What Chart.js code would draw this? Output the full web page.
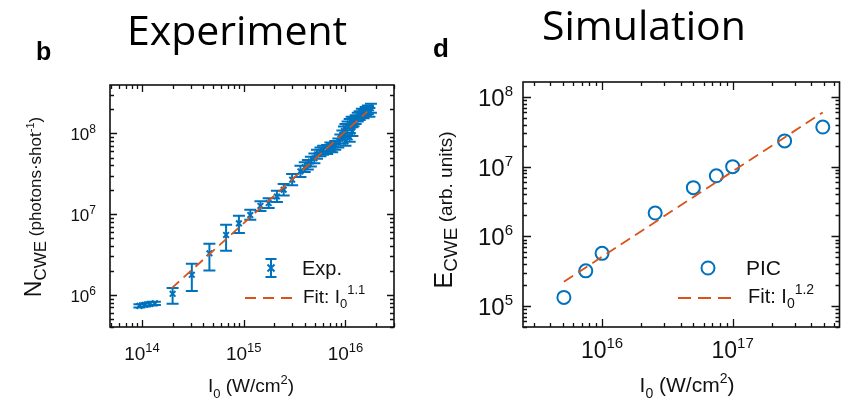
<!DOCTYPE html>
<html>
<head>
<meta charset="utf-8">
<script src="https://cdn.jsdelivr.net/npm/chart.js@4/dist/chart.umd.min.js"></script>
<style>
  html, body { margin: 0; padding: 0; background: #fff; }
  body { width: 848px; height: 403px; position: relative; overflow: hidden; }
  canvas { position: absolute; top: 0; }
  #expCanvas { left: 0; }
  #simCanvas { left: 424px; }
</style>
</head>
<body>
<canvas id="expCanvas" width="424" height="403"></canvas>
<canvas id="simCanvas" width="424" height="403"></canvas>
<script>
// ---------- Experiment: CWE photon yield vs. intensity ----------
const expIntensity = [
  9.44e13, 1.07e14, 1.20e14, 1.34e14, 2.0e14, 3.09e14, 4.60e14, 6.71e14, 8.97e14, 1.16e15,
  1.46e15, 1.76e15, 2.12e15, 2.47e15, 2.99e15, 3.61e15, 3.98e15, 4.27e15, 4.57e15, 4.95e15,
  5.25e15, 5.68e15, 6.03e15, 6.61e15, 7.11e15, 7.41e15, 7.94e15, 8.51e15, 8.91e15, 9.33e15,
  9.66e15, 1.0e16, 1.0e16, 1.05e16, 1.10e16, 1.10e16, 1.15e16, 1.17e16, 1.20e16, 1.26e16,
  1.32e16, 1.38e16, 1.45e16, 1.51e16, 1.58e16, 1.66e16, 1.72e16, 1.78e16
];
const expPhotons = [
  7.31e5, 7.53e5, 7.74e5, 7.85e5, 1.03e6, 1.77e6, 3.27e6, 5.51e6, 7.67e6, 9.73e6,
  1.26e7, 1.37e7, 1.65e7, 2.0e7, 2.66e7, 3.37e7, 3.80e7, 4.07e7, 4.47e7, 4.90e7,
  5.50e7, 5.89e7, 6.17e7, 6.31e7, 6.76e7, 6.61e7, 7.08e7, 7.59e7, 8.51e7, 9.55e7,
  1.07e8, 1.15e8, 7.94e7, 1.23e8, 1.32e8, 8.91e7, 1.41e8, 1.05e8, 1.38e8, 1.48e8,
  1.58e8, 1.66e8, 1.78e8, 1.74e8, 1.86e8, 1.95e8, 1.82e8, 2.04e8
];
const expErrLow = [
  6.98e5, 7.19e5, 7.39e5, 7.50e5, 7.74e5, 1.12e6, 2.0e6, 3.51e6, 5.81e6, 8.49e6,
  1.09e7, 1.19e7, 1.41e7, 1.70e7, 2.27e7, 2.87e7, 3.31e7, 3.55e7, 3.89e7, 4.27e7,
  4.84e7, 5.19e7, 5.43e7, 5.56e7, 5.96e7, 5.83e7, 6.24e7, 6.69e7, 7.50e7, 8.42e7,
  9.45e7, 1.01e8, 7.0e7, 1.08e8, 1.16e8, 7.85e7, 1.25e8, 9.25e7, 1.22e8, 1.30e8,
  1.40e8, 1.46e8, 1.57e8, 1.53e8, 1.64e8, 1.72e8, 1.60e8, 1.80e8
];
const expErrHigh = [
  7.66e5, 7.89e5, 8.11e5, 8.22e5, 1.22e6, 2.42e6, 4.28e6, 7.35e6, 9.51e6, 1.13e7,
  1.44e7, 1.57e7, 1.94e7, 2.35e7, 3.13e7, 3.96e7, 4.37e7, 4.68e7, 5.13e7, 5.62e7,
  6.24e7, 6.68e7, 6.99e7, 7.16e7, 7.67e7, 7.50e7, 8.03e7, 8.61e7, 9.65e7, 1.08e8,
  1.21e8, 1.30e8, 9.0e7, 1.40e8, 1.50e8, 1.01e8, 1.60e8, 1.19e8, 1.57e8, 1.67e8,
  1.80e8, 1.88e8, 2.01e8, 1.97e8, 2.11e8, 2.21e8, 2.06e8, 2.32e8
];
// power-law fit, exponent 1.1 (end points of the fitted segment)
const expFitIntensity = [1.96e14, 1.64e16];
const expFitPhotons = [1.21e6, 1.85e8];

// ---------- Simulation: PIC CWE energy vs. intensity ----------
const picIntensity = [5.1e15, 7.5e15, 1.0e16, 2.55e16, 5.0e16, 7.5e16, 1.0e17, 2.5e17, 4.9e17];
const picEnergy = [1.33e5, 3.2e5, 5.7e5, 2.16e6, 5.0e6, 7.4e6, 1.0e7, 2.34e7, 3.7e7];
// power-law fit, exponent 1.2
const picFitIntensity = [5.1e15, 4.9e17];
const picFitEnergy = [2.23e5, 6.0e7];

// decade tick labels (exponents of 10)
const expXTickExp = [14, 15, 16];
const expYTickExp = [6, 7, 8];
const simXTickExp = [16, 17];
const simYTickExp = [5, 6, 7, 8];

const BLUE = '#0072BD';
const ORANGE = '#D95319';
const INK = '#111111';
const SANS = '"Liberation Sans", Arial, sans-serif';

function fontStr(p) {
  return (p.bold ? 'bold ' : '') + p.size + 'px ' + (p.family || SANS);
}

// draws a run of text pieces with individual sizes and baseline shifts
function drawRich(ctx, parts, x, y, align) {
  let w = 0;
  parts.forEach(p => { ctx.font = fontStr(p); p.w = ctx.measureText(p.t).width; w += p.w; });
  let cx = align === 'center' ? x - w / 2 : align === 'right' ? x - w : x;
  ctx.textAlign = 'left';
  ctx.textBaseline = 'alphabetic';
  parts.forEach(p => { ctx.font = fontStr(p); ctx.fillText(p.t, cx, y + (p.dy || 0)); cx += p.w; });
  return w;
}

function drawRotated(ctx, parts, x, y) {
  ctx.save();
  ctx.translate(x, y);
  ctx.rotate(-Math.PI / 2);
  drawRich(ctx, parts, 0, 0, 'center');
  ctx.restore();
}

function logTicks(min, max) {
  const out = [];
  for (let e = Math.floor(Math.log10(min)); e <= Math.ceil(Math.log10(max)); e++) {
    for (let m = 1; m <= 9; m++) {
      const v = m * Math.pow(10, e);
      if (v >= min && v <= max) out.push({ v, major: m === 1 });
    }
  }
  return out;
}

// vertical error bars with caps, under the markers
const errorBarPlugin = {
  id: 'errorBars',
  beforeDatasetsDraw(chart, args, opts) {
    if (!opts.low) return;
    const { ctx, chartArea: a } = chart;
    const xs = chart.scales.x, ys = chart.scales.y;
    ctx.save();
    ctx.beginPath();
    ctx.rect(a.left, a.top, a.right - a.left, a.bottom - a.top);
    ctx.clip();
    ctx.strokeStyle = opts.color;
    ctx.lineWidth = opts.width;
    const half = opts.cap / 2;
    opts.x.forEach((xv, i) => {
      const px = xs.getPixelForValue(xv);
      const lo = ys.getPixelForValue(opts.low[i]);
      const hi = ys.getPixelForValue(opts.high[i]);
      ctx.beginPath();
      ctx.moveTo(px, lo); ctx.lineTo(px, hi);
      ctx.moveTo(px - half, lo); ctx.lineTo(px + half, lo);
      ctx.moveTo(px - half, hi); ctx.lineTo(px + half, hi);
      ctx.stroke();
    });
    ctx.restore();
  }
};

// axes box with inward ticks, tick labels, axis titles, legend and panel headings
const framePlugin = {
  id: 'frame',
  afterDraw(chart, args, o) {
    const { ctx, chartArea: a } = chart;
    const xs = chart.scales.x, ys = chart.scales.y;
    ctx.save();
    ctx.strokeStyle = INK;
    ctx.lineWidth = 1.6;
    ctx.strokeRect(a.left, a.top, a.right - a.left, a.bottom - a.top);

    ctx.lineWidth = 1.3;
    ctx.beginPath();
    logTicks(xs.min, xs.max).forEach(t => {
      const px = Math.round(xs.getPixelForValue(t.v)) + 0.5;
      const len = t.major ? o.majorLen : o.minorLen;
      ctx.moveTo(px, a.bottom); ctx.lineTo(px, a.bottom - len);
      ctx.moveTo(px, a.top); ctx.lineTo(px, a.top + len);
    });
    logTicks(ys.min, ys.max).forEach(t => {
      const py = Math.round(ys.getPixelForValue(t.v)) + 0.5;
      const len = t.major ? o.majorLen : o.minorLen;
      ctx.moveTo(a.left, py); ctx.lineTo(a.left + len, py);
      ctx.moveTo(a.right, py); ctx.lineTo(a.right - len, py);
    });
    ctx.stroke();

    ctx.fillStyle = INK;
    o.xTickExp.forEach(e => {
      const px = xs.getPixelForValue(Math.pow(10, e));
      drawRich(ctx, [
        { t: '10', size: o.xTickSize },
        { t: String(e), size: o.xSupSize, dy: -o.xSupRise }
      ], px, a.bottom + o.xTickDrop, 'center');
    });
    o.yTickExp.forEach(e => {
      const py = ys.getPixelForValue(Math.pow(10, e));
      drawRich(ctx, [
        { t: '10', size: o.yTickSize },
        { t: String(e), size: o.ySupSize, dy: -o.ySupRise }
      ], a.left - o.yTickGap, py + o.yTickDrop, 'right');
    });

    drawRich(ctx, o.xTitle, o.xTitlePos[0], o.xTitlePos[1], 'center');
    drawRotated(ctx, o.yTitle, o.yTitlePos[0], o.yTitlePos[1]);

    // legend
    const L = o.legend;
    if (L.marker === 'errorbar') {
      const [mx, my] = L.markerPos;
      ctx.strokeStyle = BLUE;
      ctx.lineWidth = 2;
      ctx.beginPath();
      ctx.moveTo(mx, my - 9); ctx.lineTo(mx, my + 9);
      ctx.moveTo(mx - 5.5, my - 9); ctx.lineTo(mx + 5.5, my - 9);
      ctx.moveTo(mx - 5.5, my + 9); ctx.lineTo(mx + 5.5, my + 9);
      ctx.moveTo(mx - 3.5, my - 3.5); ctx.lineTo(mx + 3.5, my + 3.5);
      ctx.moveTo(mx - 3.5, my + 3.5); ctx.lineTo(mx + 3.5, my - 3.5);
      ctx.stroke();
    } else {
      const [mx, my] = L.markerPos;
      ctx.strokeStyle = BLUE;
      ctx.lineWidth = 2;
      ctx.beginPath();
      ctx.arc(mx, my, L.radius, 0, Math.PI * 2);
      ctx.stroke();
    }
    ctx.fillStyle = INK;
    drawRich(ctx, L.label1, L.label1Pos[0], L.label1Pos[1], 'left');
    ctx.strokeStyle = ORANGE;
    ctx.lineWidth = 1.8;
    ctx.setLineDash(L.dash);
    ctx.beginPath();
    ctx.moveTo(L.linePos[0], L.linePos[2]);
    ctx.lineTo(L.linePos[1], L.linePos[2]);
    ctx.stroke();
    ctx.setLineDash([]);
    drawRich(ctx, L.label2, L.label2Pos[0], L.label2Pos[1], 'left');

    // panel letter and heading
    ctx.fillStyle = '#000';
    drawRich(ctx, [{ t: o.tag, size: o.tagSize, bold: true }], o.tagPos[0], o.tagPos[1], 'left');
    drawRich(ctx, [{ t: o.heading, size: 41, family: '"Open Sans", sans-serif' }], o.headingPos[0], o.headingPos[1], 'left');
    ctx.restore();
  }
};

function pts(xs, ys) { return xs.map((x, i) => ({ x, y: ys[i] })); }

// left panel
new Chart(document.getElementById('expCanvas'), {
  type: 'scatter',
  data: {
    datasets: [
      {
        label: 'Fit',
        data: pts(expFitIntensity, expFitPhotons),
        showLine: true,
        borderColor: ORANGE,
        borderWidth: 1.8,
        borderDash: [10, 6],
        pointRadius: 0,
        order: 0
      },
      {
        label: 'Exp.',
        data: pts(expIntensity, expPhotons),
        pointStyle: 'crossRot',
        pointRadius: 4,
        borderColor: BLUE,
        backgroundColor: BLUE,
        pointBorderWidth: 2,
        order: 1
      }
    ]
  },
  options: {
    responsive: false,
    animation: false,
    devicePixelRatio: 1,
    layout: { padding: { left: 110, right: 30, top: 85, bottom: 76 } },
    scales: {
      x: { type: 'logarithmic', min: 4.85e13, max: 3.0e16, display: false },
      y: { type: 'logarithmic', min: 4.0e5, max: 3.96e8, display: false }
    },
    plugins: {
      legend: { display: false },
      tooltip: { enabled: false },
      errorBars: { x: expIntensity, low: expErrLow, high: expErrHigh, color: BLUE, width: 2, cap: 12 },
      frame: {
        majorLen: 7, minorLen: 4,
        xTickExp: expXTickExp, yTickExp: expYTickExp,
        xTickSize: 19, xSupSize: 13, xSupRise: 8, xTickDrop: 33,
        yTickSize: 17, ySupSize: 12, ySupRise: 7, yTickGap: 14, yTickDrop: 7,
        xTitle: [
          { t: 'I', size: 19 }, { t: '0', size: 13, dy: 6 },
          { t: ' (W/cm', size: 19 }, { t: '2', size: 13, dy: -8 }, { t: ')', size: 19 }
        ],
        xTitlePos: [251, 392],
        yTitle: [
          { t: 'N', size: 23 }, { t: 'CWE', size: 17, dy: 5 },
          { t: ' (photons\u00b7shot', size: 17 }, { t: '-1', size: 11, dy: -7 }, { t: ')', size: 17 }
        ],
        yTitlePos: [41, 207],
        legend: {
          marker: 'errorbar', markerPos: [271, 268],
          label1: [{ t: 'Exp.', size: 20 }], label1Pos: [302, 275],
          linePos: [245, 297, 298], dash: [11, 7],
          label2: [{ t: 'Fit: I', size: 19 }, { t: '0', size: 13, dy: 5 }, { t: '1.1', size: 13, dy: -9 }],
          label2Pos: [303, 303]
        },
        tag: 'b', tagSize: 25, tagPos: [36, 60],
        heading: 'Experiment', headingPos: [127, 45]
      }
    }
  },
  plugins: [errorBarPlugin, framePlugin]
});

// right panel
new Chart(document.getElementById('simCanvas'), {
  type: 'scatter',
  data: {
    datasets: [
      {
        label: 'Fit',
        data: pts(picFitIntensity, picFitEnergy),
        showLine: true,
        borderColor: ORANGE,
        borderWidth: 1.8,
        borderDash: [11, 6],
        pointRadius: 0,
        order: 0
      },
      {
        label: 'PIC',
        data: pts(picIntensity, picEnergy),
        pointStyle: 'circle',
        pointRadius: 6.5,
        borderColor: BLUE,
        backgroundColor: 'rgba(0,0,0,0)',
        pointBorderWidth: 2,
        order: 1
      }
    ]
  },
  options: {
    responsive: false,
    animation: false,
    devicePixelRatio: 1,
    layout: { padding: { left: 99, right: 5, top: 82, bottom: 76 } },
    scales: {
      x: { type: 'logarithmic', min: 2.48e15, max: 6.58e17, display: false },
      y: { type: 'logarithmic', min: 5.0e4, max: 1.64e8, display: false }
    },
    plugins: {
      legend: { display: false },
      tooltip: { enabled: false },
      frame: {
        majorLen: 8, minorLen: 4,
        xTickExp: simXTickExp, yTickExp: simYTickExp,
        xTickSize: 23, xSupSize: 15, xSupRise: 10, xTickDrop: 31,
        yTickSize: 24, ySupSize: 15, ySupRise: 10, yTickGap: 10, yTickDrop: 9,
        xTitle: [
          { t: 'I', size: 21 }, { t: '0', size: 14, dy: 6 },
          { t: ' (W/cm', size: 21 }, { t: '2', size: 14, dy: -9 }, { t: ')', size: 21 }
        ],
        xTitlePos: [263, 392],
        yTitle: [
          { t: 'E', size: 25 }, { t: 'CWE', size: 19, dy: 5 },
          { t: ' (arb. units)', size: 19 }
        ],
        yTitlePos: [28, 210],
        legend: {
          marker: 'circle', markerPos: [284, 268], radius: 6.5,
          label1: [{ t: 'PIC', size: 21 }], label1Pos: [322, 275],
          linePos: [254, 314, 298], dash: [13, 7],
          label2: [{ t: 'Fit: I', size: 20 }, { t: '0', size: 14, dy: 5 }, { t: '1.2', size: 14, dy: -9 }],
          label2Pos: [324, 303]
        },
        tag: 'd', tagSize: 26, tagPos: [9, 57],
        heading: 'Simulation', headingPos: [118, 40]
      }
    }
  },
  plugins: [framePlugin]
});
</script>
</body>
</html>
